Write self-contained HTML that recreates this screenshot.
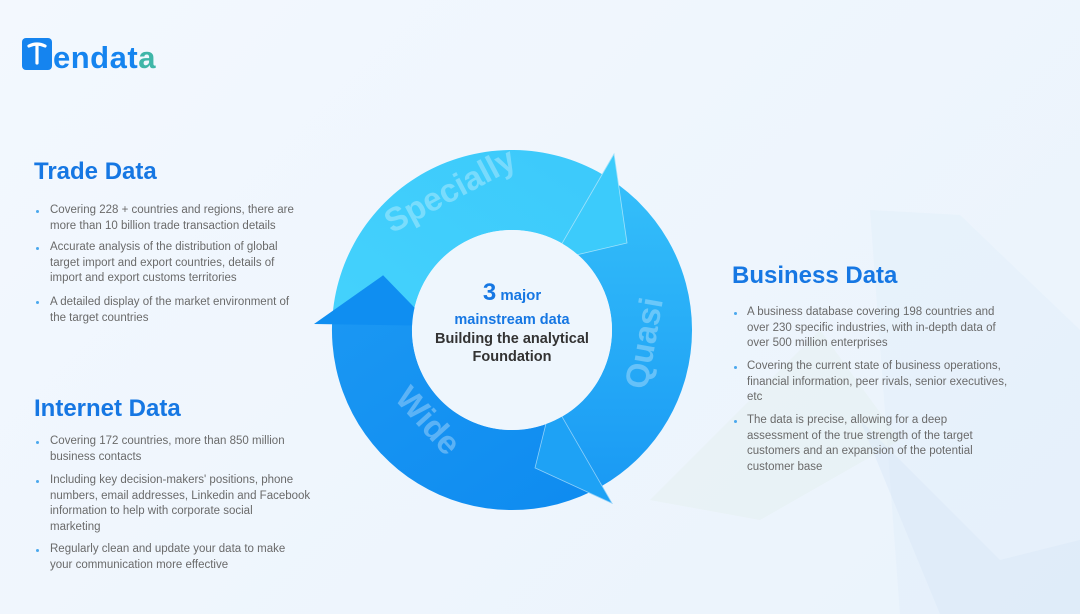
<!DOCTYPE html>
<html><head><meta charset="utf-8"><style>
*{margin:0;padding:0}
body{width:1080px;height:614px;overflow:hidden;background:linear-gradient(135deg,#f3f8fe 0%,#eaf3fc 100%);font-family:"Liberation Sans",sans-serif;position:relative}
.t{position:absolute;font-weight:bold;font-size:24px;color:#1677e3;white-space:nowrap}
.l{position:absolute;font-size:11.5px;color:#6a6a6a;white-space:nowrap;line-height:15.5px}
.b{position:absolute;width:3px;height:3px;border-radius:50%;background:#4aa8ee}
</style></head><body>
<svg width="1080" height="614" style="position:absolute;left:0;top:0">
<defs>
<linearGradient id="gs" x1="0" y1="1" x2="1" y2="0"><stop offset="0" stop-color="#44d2fc"/><stop offset="1" stop-color="#3cc9fb"/></linearGradient>
<linearGradient id="gq" x1="0" y1="0" x2="0" y2="1"><stop offset="0" stop-color="#35c0fa"/><stop offset="1" stop-color="#1a9af4"/></linearGradient>
<linearGradient id="gw" x1="1" y1="1" x2="0" y2="0"><stop offset="0" stop-color="#0e8bf0"/><stop offset="1" stop-color="#1a97f3"/></linearGradient>
</defs>
<path d="M870 210 L960 215 L1080 330 L1080 614 L900 614 Z" fill="#dbeaf8" opacity="0.3"/>
<path d="M650 500 L820 330 L900 440 L760 520 Z" fill="#e2efe9" opacity="0.35"/>
<path d="M860 420 L1000 560 L1080 540 L1080 614 L940 614 Z" fill="#d6e7f7" opacity="0.4"/>
<path d="M332.2,320.6 A180,180 0 0 1 602,174.1 L562,243.4 A100,100 0 0 0 412.1,324.8 Z" fill="url(#gs)"/>
<path d="M602,174.1 A180,180 0 0 1 602,485.9 L562,416.6 A100,100 0 0 0 562,243.4 Z" fill="url(#gq)"/>
<path d="M602,485.9 A180,180 0 0 1 332.2,320.6 L412.1,324.8 A100,100 0 0 0 562,416.6 Z" fill="url(#gw)"/>
<polygon points="552,260.7 614,154 627,243" fill="#3ccbfb" stroke="#9fe2fb" stroke-width="0.8"/>
<polygon points="552,399.3 612,503.2 535,467.9" fill="#1ea2f5" stroke="#8fd0fa" stroke-width="0.8"/>
<polygon points="432.1,325.8 314,324 383.1,275.3" fill="#0f8ef1"/>
<circle cx="512" cy="330" r="100" fill="#eef6fd"/>
<g font-family="Liberation Sans,sans-serif" font-weight="bold" font-size="33" fill="#fff" fill-opacity="0.3">
<text x="0" y="0" transform="translate(455,200) rotate(-28)" text-anchor="middle">Specially</text>
<text x="0" y="0" transform="translate(655,345) rotate(-80)" text-anchor="middle">Quasi</text>
<text x="0" y="0" transform="translate(420,428) rotate(48)" text-anchor="middle">Wide</text>
</g>
<text x="512" y="300" text-anchor="middle" font-family="Liberation Sans,sans-serif" font-weight="bold" fill="#1677e3"><tspan font-size="24">3</tspan><tspan font-size="15"> major</tspan></text>
<text x="512" y="324" text-anchor="middle" font-family="Liberation Sans,sans-serif" font-weight="bold" font-size="14.5" fill="#1677e3">mainstream data</text>
<text x="512" y="343" text-anchor="middle" font-family="Liberation Sans,sans-serif" font-weight="bold" font-size="14.5" fill="#333">Building the analytical</text>
<text x="512" y="361" text-anchor="middle" font-family="Liberation Sans,sans-serif" font-weight="bold" font-size="14.5" fill="#333">Foundation</text>
<rect x="22" y="38" width="30" height="32" rx="4" fill="#1584ef"/>
<path d="M29 46 Q37 42 45 46 M37 44 L37 63" stroke="#fff" stroke-width="3.2" fill="none" stroke-linecap="round"/>
<text x="53" y="68" font-family="Liberation Sans,sans-serif" font-size="31" font-weight="bold" letter-spacing="0.5" fill="#1584ef">endat<tspan fill="#3fb6a8">a</tspan></text>
</svg>

<div class="t" style="left:34px;top:158px">Trade Data</div>
<div class="b" style="left:36px;top:210px"></div>
<div class="l" style="left:50px;top:203px">Covering 228 + countries and regions, there are<br>more than 10 billion trade transaction details</div>
<div class="b" style="left:36px;top:247px"></div>
<div class="l" style="left:50px;top:240px">Accurate analysis of the distribution of global<br>target import and export countries, details of<br>import and export customs territories</div>
<div class="b" style="left:36px;top:301px"></div>
<div class="l" style="left:50px;top:295px">A detailed display of the market environment of<br>the target countries</div>

<div class="t" style="left:34px;top:395px">Internet Data</div>
<div class="b" style="left:36px;top:441px"></div>
<div class="l" style="left:50px;top:434px">Covering 172 countries, more than 850 million<br>business contacts</div>
<div class="b" style="left:36px;top:480px"></div>
<div class="l" style="left:50px;top:473px">Including key decision-makers' positions, phone<br>numbers, email addresses, Linkedin and Facebook<br>information to help with corporate social<br>marketing</div>
<div class="b" style="left:36px;top:549px"></div>
<div class="l" style="left:50px;top:542px">Regularly clean and update your data to make<br>your communication more effective</div>

<div class="t" style="left:732px;top:262px">Business Data</div>
<div class="b" style="left:734px;top:312px"></div>
<div class="l" style="left:747px;top:305px">A business database covering 198 countries and<br>over 230 specific industries, with in-depth data of<br>over 500 million enterprises</div>
<div class="b" style="left:734px;top:366px"></div>
<div class="l" style="left:747px;top:359px">Covering the current state of business operations,<br>financial information, peer rivals, senior executives,<br>etc</div>
<div class="b" style="left:734px;top:420px"></div>
<div class="l" style="left:747px;top:413px">The data is precise, allowing for a deep<br>assessment of the true strength of the target<br>customers and an expansion of the potential<br>customer base</div>
</body></html>
